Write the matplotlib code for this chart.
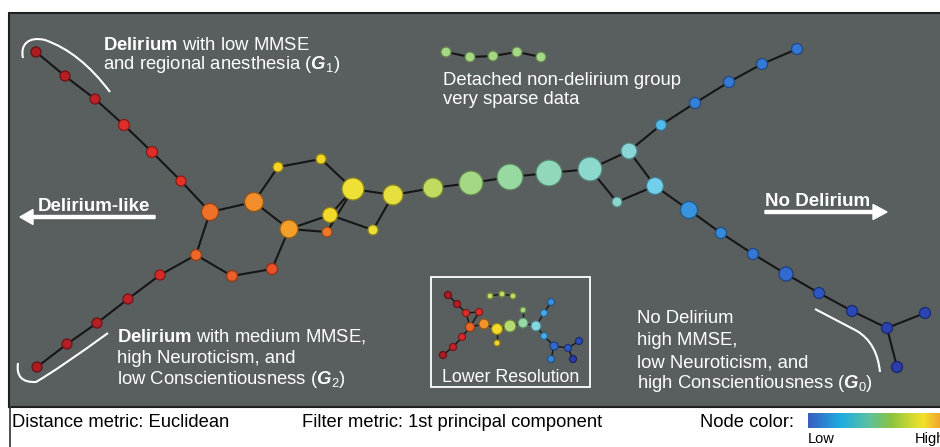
import numpy as np
import matplotlib
matplotlib.use('Agg')
from matplotlib import pyplot as plt
import matplotlib.patches as mpatches
from matplotlib.path import Path
from matplotlib.colors import LinearSegmentedColormap, to_rgb

plt.rcParams['font.family'] = ['Liberation Sans', 'DejaVu Sans']
plt.rcParams['mathtext.fontset'] = 'custom'
plt.rcParams['mathtext.rm'] = 'Liberation Sans'
plt.rcParams['mathtext.it'] = 'Liberation Sans:italic'
plt.rcParams['mathtext.bf'] = 'Liberation Sans:bold'
plt.rcParams['mathtext.bfit'] = 'Liberation Sans:italic:bold'

# main mapper graph: layout x, layout y, node size (radius), colour value (0 = low, 1 = high)
node_x = [36, 65, 95, 124, 152, 181, 210, 254, 278, 321, 353, 393, 289, 330, 327, 373,
          196, 232, 272, 160, 128, 97, 67, 37,
          433, 471, 510, 549, 590, 629, 617, 655, 661, 695, 729, 762, 797,
          689, 721, 753, 786, 819, 852, 887, 925, 897,
          446, 470, 493, 517, 541]
node_y = [52, 76, 99, 125, 152, 181, 212, 202, 167, 159, 189, 195, 229, 215, 232, 230,
          255, 276, 269, 275, 299, 323, 344, 367,
          188, 183, 177, 173, 169, 151, 202, 186, 125, 103, 82, 64, 49,
          210, 233, 254, 274, 293, 311, 328, 313, 367,
          52, 57, 56, 52, 57]
node_size = [5, 5, 5, 5.5, 5.5, 5, 8.5, 9.5, 5, 5, 11, 10, 9, 7.5, 5, 5,
             5.5, 5.5, 5.5, 5, 5, 5, 5, 5,
             10, 12, 13, 13, 12, 8, 5, 8.5, 5.5, 5.5, 5.5, 5.5, 5.5,
             8.5, 5.5, 5.5, 7, 5.5, 5.5, 5.5, 5.5, 5.5,
             5, 5, 5, 5, 5]
node_val = [0.98, 0.97, 0.96, 0.92, 0.92, 0.91, 0.85, 0.81, 0.69, 0.69, 0.66, 0.63, 0.77, 0.68, 0.84, 0.65,
            0.86, 0.87, 0.88, 0.93, 0.96, 0.97, 0.97, 0.98,
            0.57, 0.52, 0.48, 0.44, 0.41, 0.39, 0.40, 0.33, 0.28, 0.17, 0.16, 0.16, 0.15,
            0.21, 0.19, 0.15, 0.13, 0.10, 0.07, 0.05, 0.06, 0.03,
            0.52, 0.52, 0.52, 0.52, 0.52]
edges = [(0, 1), (1, 2), (2, 3), (3, 4), (4, 5), (5, 6), (6, 7), (6, 16), (7, 8), (8, 9), (9, 10),
         (7, 12), (12, 13), (12, 14), (12, 18), (18, 17), (17, 16), (16, 19), (19, 20), (20, 21),
         (21, 22), (22, 23), (10, 13), (10, 14), (13, 15), (10, 11), (11, 15), (11, 24), (24, 25),
         (25, 26), (26, 27), (27, 28), (28, 29), (28, 30), (30, 31), (29, 31), (29, 32), (32, 33),
         (33, 34), (34, 35), (35, 36), (31, 37), (37, 38), (38, 39), (39, 40), (40, 41), (41, 42),
         (42, 43), (43, 44), (43, 45), (46, 47), (47, 48), (48, 49), (49, 50)]

# lower resolution inset graph
ins_x = [448, 457, 466, 479, 470, 484, 497, 497, 510, 523, 523, 536, 544, 551, 544, 554, 568, 579, 573, 551,
         462, 453, 443, 490, 502, 513]
ins_y = [295, 304, 313, 312, 327, 324, 329, 343, 326, 323, 310, 326, 313, 302, 336, 346, 348, 341, 359, 359,
         337, 347, 355, 296, 294, 296]
ins_size = [3.5, 3.5, 3.5, 3.5, 4.5, 5, 5.5, 3, 6, 5, 3, 5, 3.5, 3.5, 3.5, 4, 3.5, 3.5, 3.5, 3.5,
            3.5, 3.5, 3.5, 3, 3, 3]
ins_val = [0.98, 0.97, 0.92, 0.92, 0.86, 0.8, 0.68, 0.68, 0.55, 0.47, 0.53, 0.37, 0.25, 0.2, 0.25, 0.13,
           0.1, 0.08, 0.02, 0.18, 0.93, 0.95, 0.98, 0.57, 0.57, 0.57]
ins_edges = [(0, 1), (1, 2), (2, 3), (3, 4), (2, 4), (4, 5), (5, 6), (6, 7), (6, 8), (8, 9), (9, 10),
             (9, 11), (11, 12), (12, 13), (11, 14), (14, 15), (15, 16), (16, 17), (16, 18), (15, 19),
             (4, 20), (20, 21), (21, 22), (23, 24), (24, 25)]

node_cmap = LinearSegmentedColormap.from_list('nodes', [
    (0.00, '#2a35a0'), (0.08, '#2a4cbc'), (0.15, '#3478d4'), (0.22, '#3a9ae2'),
    (0.30, '#5cc4ec'), (0.35, '#80d6ea'), (0.42, '#8ed8c6'), (0.48, '#98d8a0'),
    (0.53, '#a8d880'), (0.58, '#c8dc58'), (0.63, '#e6e040'), (0.67, '#f2e030'),
    (0.70, '#f5d020'), (0.76, '#f5a52a'), (0.82, '#f08a2a'), (0.86, '#ec6a28'),
    (0.91, '#e83228'), (0.95, '#c8242a'), (1.00, '#98181e')])
bar_cmap = LinearSegmentedColormap.from_list('bar', [
    (0.0, '#3a5ec0'), (0.22, '#1eaee2'), (0.4, '#5cc0a0'), (0.55, '#8cc440'),
    (0.7, '#d8dc30'), (0.76, '#f2e22a'), (0.88, '#f0a02a'), (1.0, '#e8502a')])

PANEL = '#595e5e'


def draw_graph(ax, xs, ys, sizes, vals, links, lw):
    for a, b in links:
        ax.plot([xs[a], xs[b]], [ys[a], ys[b]], color='#161616', lw=lw, zorder=2,
                solid_capstyle='round')
    cols = [node_cmap(v) for v in vals]
    edgecols = [tuple(c * 0.6 for c in to_rgb(col)) for col in cols]
    s = [(1.44 * r) ** 2 for r in sizes]
    ax.scatter(xs, ys, s=s, c=cols, edgecolors=edgecols, linewidths=0.9, zorder=3)


fig = plt.figure(figsize=(9.4, 4.47), dpi=100)
ax = fig.add_axes([0, 0, 1, 1])
ax.set_xlim(0, 940)
ax.set_ylim(447, 0)
ax.axis('off')

ax.add_patch(mpatches.Rectangle((9, 13), 945, 394, facecolor=PANEL, edgecolor='#202020', lw=1.5, zorder=0))
ax.plot([10, 10], [407, 447], color='#303030', lw=1.2, zorder=0)

draw_graph(ax, node_x, node_y, node_size, node_val, edges, 1.5)

# inset
ax.add_patch(mpatches.Rectangle((431, 277), 159, 110, facecolor='none', edgecolor='white', lw=1.3, zorder=1))
draw_graph(ax, ins_x, ins_y, ins_size, ins_val, ins_edges, 1.0)
ax.text(510.5, 382, 'Lower Resolution', color='white', fontsize=12.8, ha='center', va='baseline')

# annotations
fs = 13.3
wt = 'white'
ax.text(103, 50, r'$\mathbf{Delirium}$ with low MMSE', color=wt, fontsize=fs, va='baseline')
ax.text(103, 69, r'and regional anesthesia ($\mathbfit{G}_{1}$)', color=wt, fontsize=fs, va='baseline')
ax.text(443, 85, 'Detached non-delirium group', color=wt, fontsize=fs, va='baseline')
ax.text(443, 104, 'very sparse data', color=wt, fontsize=fs, va='baseline')
ax.text(117, 342, r'$\mathbf{Delirium}$ with medium MMSE,', color=wt, fontsize=fs, va='baseline')
ax.text(117, 363, 'high Neuroticism, and', color=wt, fontsize=fs, va='baseline')
ax.text(117, 384, r'low Conscientiousness ($\mathbfit{G}_{2}$)', color=wt, fontsize=fs, va='baseline')
ax.text(637, 323, 'No Delirium', color=wt, fontsize=fs, va='baseline')
ax.text(637, 345, 'high MMSE,', color=wt, fontsize=fs, va='baseline')
ax.text(637, 367, 'low Neuroticism, and', color=wt, fontsize=fs, va='baseline')
ax.text(637, 388, r'high Conscientiousness ($\mathbfit{G}_{0}$)', color=wt, fontsize=fs, va='baseline')

ax.text(38, 211, 'Delirium-like', color=wt, fontsize=13.5, fontweight='bold', va='baseline')
ax.text(765, 206, 'No Delirium', color=wt, fontsize=13.5, fontweight='bold', va='baseline')
ax.arrow(155, 217, -135, 0, width=3, head_width=15, head_length=13, length_includes_head=True,
         color=wt, zorder=4)
ax.arrow(765, 212, 122, 0, width=3, head_width=15, head_length=14, length_includes_head=True,
         color=wt, zorder=4)

# group brackets
bracket1 = Path([(23, 58), (20, 45), (28, 36), (45, 40), (80, 52), (110, 92)],
                [Path.MOVETO, Path.CURVE4, Path.CURVE4, Path.CURVE4, Path.CURVE3, Path.CURVE3])
bracket2 = Path([(108, 333), (60, 368), (36, 382), (15, 383), (18, 363)],
                [Path.MOVETO, Path.CURVE3, Path.CURVE3, Path.CURVE3, Path.CURVE3])
bracket0 = Path([(815, 309), (857, 331), (877, 343), (880, 372)],
                [Path.MOVETO, Path.LINETO, Path.CURVE3, Path.CURVE3])
for p in (bracket1, bracket2, bracket0):
    ax.add_patch(mpatches.PathPatch(p, facecolor='none', edgecolor='white', lw=1.5, zorder=4))

# bottom strip
bfs = 13.2
ax.text(12, 427, 'Distance metric: Euclidean', color='black', fontsize=bfs, va='baseline')
ax.text(302, 427, 'Filter metric: 1st principal component', color='black', fontsize=bfs, va='baseline')
ax.text(700, 427, 'Node color:', color='black', fontsize=bfs, va='baseline')
grad = np.linspace(0, 1, 256).reshape(1, -1)
ax.imshow(grad, cmap=bar_cmap, extent=(808, 960, 428, 413), aspect='auto', zorder=1)
ax.set_xlim(0, 940)
ax.set_ylim(447, 0)
ax.text(808, 443, 'Low', color='black', fontsize=10.5, va='baseline')
ax.text(915, 443, 'High', color='black', fontsize=10.5, va='baseline')

fig.savefig('out.png', dpi=100, facecolor='white')
